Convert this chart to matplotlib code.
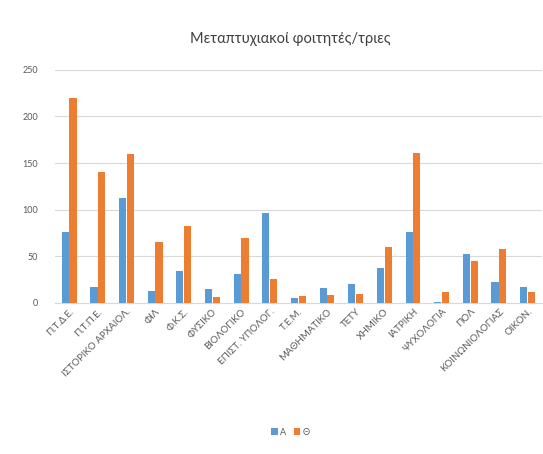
import numpy as np
import matplotlib.pyplot as plt

plt.rcParams['font.family'] = ['Lato', 'DejaVu Sans']

categories = ["Π.Τ.Δ.Ε.", "Π.Τ.Π.Ε.", "ΙΣΤΟΡΙΚΟ ΑΡΧΑΙΟΛ.", "ΦΙΛ", "Φ.Κ.Σ.", "ΦΥΣΙΚΟ",
              "ΒΙΟΛΟΓΙΚΟ", "ΕΠΙΣΤ. ΥΠΟΛΟΓ.", "Τ.Ε.Μ.", "ΜΑΘΗΜΑΤΙΚΟ", "ΤΕΤΥ", "ΧΗΜΙΚΟ",
              "ΙΑΤΡΙΚΗ", "ΨΥΧΟΛΟΓΙΑ", "ΠΟΛ", "ΚΟΙΝΩΝΙΟΛΟΓΙΑΣ", "ΟΙΚΟΝ."]
a_values = [76, 17, 113, 13, 34, 15, 31, 96, 5, 16, 20, 37, 76, 1, 52, 22, 17]
th_values = [220, 140, 160, 65, 82, 6, 70, 26, 7, 8, 9, 60, 161, 12, 45, 58, 12]
yticks = [0, 50, 100, 150, 200, 250]

BLUE = "#5B9BD5"
ORANGE = "#ED7D31"
GREY = "#595959"

fig = plt.figure(figsize=(5.43, 4.54), dpi=100)
ax = fig.add_axes([0.101, 0.333, 0.897, 0.513])

x = np.arange(len(categories))
w = 0.25
ax.bar(x - w / 2 - 0.01, a_values, width=w, color=BLUE, label="Α", zorder=3)
ax.bar(x + w / 2 + 0.01, th_values, width=w, color=ORANGE, label="Θ", zorder=3)

ax.set_xlim(-0.5, len(categories) - 0.5)
ax.set_ylim(0, 250)
ax.set_yticks(yticks)
ax.yaxis.grid(True, color="#D9D9D9", linewidth=0.8, zorder=0)
ax.tick_params(axis="y", length=0, labelsize=6.5, colors=GREY, pad=12)
ax.tick_params(axis="x", length=0, labelsize=7, colors=GREY, pad=3)
ax.set_xticks(x)
ax.set_xticklabels(categories, rotation=45, ha="right", rotation_mode="anchor")
for s in ["top", "right", "left"]:
    ax.spines[s].set_visible(False)
ax.spines["bottom"].set_color("#D9D9D9")

fig.text(0.535, 0.915, "Μεταπτυχιακοί φοιτητές/τριες", ha="center", va="center",
         fontsize=10.5, color="#404040")

fig.legend(loc="center", bbox_to_anchor=(0.535, 0.048), ncol=2, frameon=False,
           fontsize=6.5, handlelength=0.7, handleheight=0.9, handletextpad=0.3,
           columnspacing=0.8, labelcolor=GREY)

fig.savefig("out.png", dpi=100)
